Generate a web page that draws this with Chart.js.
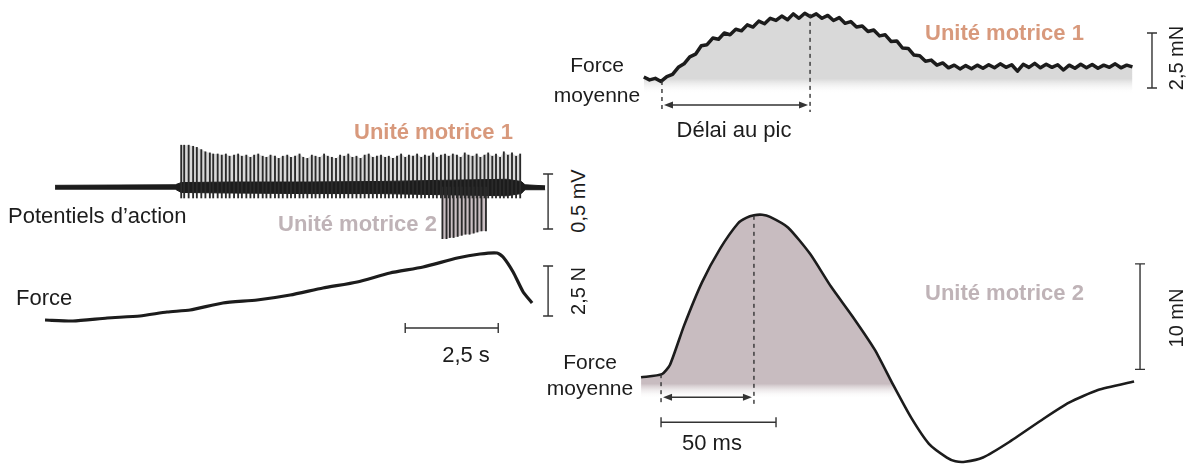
<!DOCTYPE html>
<html lang="fr">
<head>
<meta charset="utf-8">
<title>Unités motrices</title>
<script src="https://cdn.jsdelivr.net/npm/chart.js@4"></script>
<style>
  html, body { margin: 0; padding: 0; background: #fff; }
  #fig { position: relative; width: 1192px; height: 466px; overflow: hidden; background: #fff; }
  #fig canvas { position: absolute; }
  .lbl { position: absolute; font-family: 'Liberation Sans', Arial, sans-serif; font-size: 22px;
         color: #1c1c1c; white-space: nowrap; line-height: 1; }
  .mu1 { color: #d8997c; font-weight: bold; }
  .mu2 { color: #bfb3b7; font-weight: bold; }
  .ctr { transform: translateX(-50%); text-align: center; }
  .fm { font-size: 21px; }
  .rot { font-size: 20px; transform: translate(-50%, -50%) rotate(-90deg); }
</style>
</head>
<body>
<div id="fig">
  <canvas id="apChart" width="560" height="120" style="left:0;top:130px"></canvas>
  <canvas id="forceChart" width="560" height="130" style="left:0;top:240px"></canvas>
  <canvas id="mu1Chart" width="562" height="140" style="left:630px;top:0"></canvas>
  <canvas id="mu2Chart" width="562" height="266" style="left:630px;top:200px"></canvas>

  <div class="lbl mu1" style="left:354px;top:121px">Unité motrice 1</div>
  <div class="lbl" style="left:8px;top:205px">Potentiels d’action</div>
  <div class="lbl mu2" style="left:278px;top:213px">Unité motrice 2</div>
  <div class="lbl" style="left:16px;top:287px">Force</div>
  <div class="lbl ctr" style="left:466px;top:344px">2,5 s</div>
  <div class="lbl rot" style="left:578px;top:201px">0,5 mV</div>
  <div class="lbl rot" style="left:578px;top:291px">2,5 N</div>

  <div class="lbl ctr fm" style="left:597px;top:50px;line-height:30px">Force<br>moyenne</div>
  <div class="lbl mu1" style="left:925px;top:22px">Unité motrice 1</div>
  <div class="lbl ctr" style="left:734px;top:119px">Délai au pic</div>
  <div class="lbl rot" style="left:1176px;top:58px">2,5 mN</div>

  <div class="lbl ctr fm" style="left:590px;top:349px;line-height:26px">Force<br>moyenne</div>
  <div class="lbl mu2" style="left:925px;top:282px">Unité motrice 2</div>
  <div class="lbl rot" style="left:1176px;top:318px">10 mN</div>
  <div class="lbl ctr" style="left:712px;top:432px">50 ms</div>
</div>

<script>
// --- Potentiels d'action (s, mV) ---
const apBandT  = [0.27, 3.5, 3.66, 5, 7, 9, 10.6, 11.5, 12.4, 12.8, 12.9, 13.44];
const apBandHi = [0.015, 0.02, 0.04, 0.045, 0.045, 0.05, 0.06, 0.065, 0.07, 0.05, 0.02, 0.01];
const apBandLo = [-0.02, -0.02, -0.05, -0.055, -0.06, -0.06, -0.07, -0.075, -0.08, -0.06, -0.025, -0.025];

const mu1SpikeT = [3.66,3.74,3.86,3.98,4.08,4.2,4.31,4.43,4.52,4.64,
  4.75,4.86,4.96,5.08,5.19,5.29,5.41,5.52,5.62,5.73,
  5.85,5.95,6.06,6.18,6.28,6.39,6.51,6.61,6.72,6.84,
  6.94,7.05,7.17,7.27,7.38,7.5,7.6,7.71,7.82,7.93,
  8.04,8.15,8.26,8.37,8.48,8.59,8.7,8.81,8.92,9.03,
  9.14,9.24,9.35,9.46,9.57,9.68,9.78,9.89,10.0,10.11,
  10.21,10.32,10.43,10.53,10.64,10.75,10.85,10.96,11.07,11.17,
  11.28,11.38,11.49,11.6,11.7,11.81,11.91,12.02,12.12,12.23,
  12.33,12.44,12.55,12.66,12.77];
const mu1SpikeAmp = [0.38,0.38,0.38,0.37,0.36,0.34,0.32,0.31,0.3,0.3,
  0.29,0.3,0.28,0.29,0.3,0.28,0.29,0.27,0.29,0.3,
  0.28,0.27,0.29,0.28,0.26,0.28,0.29,0.27,0.28,0.3,
  0.27,0.26,0.29,0.28,0.27,0.3,0.28,0.27,0.26,0.29,
  0.28,0.3,0.27,0.28,0.26,0.29,0.3,0.27,0.28,0.29,
  0.27,0.28,0.26,0.28,0.3,0.27,0.29,0.28,0.3,0.27,
  0.29,0.28,0.31,0.27,0.29,0.3,0.28,0.3,0.29,0.27,
  0.31,0.29,0.28,0.3,0.27,0.29,0.31,0.28,0.3,0.27,
  0.32,0.29,0.31,0.28,0.3];

const mu2SpikeT   = [10.68,10.79,10.88,10.98,11.09,11.2,11.3,11.41,11.52,11.62,11.73,11.85];
const mu2SpikeAmp = [-0.47,-0.47,-0.46,-0.46,-0.45,-0.44,-0.43,-0.43,-0.42,-0.41,-0.4,-0.4];

// --- Force globale (s, N) ---
const forceT = [0, 0.75, 1.67, 2.55, 3.28, 3.9, 4.78, 5.7, 6.59, 7.47, 8.39, 9.27, 10.16, 11.08, 11.69, 12.15, 12.31, 12.58, 12.85, 13.09];
const forceN = [0, -0.05, 0.1, 0.2, 0.4, 0.5, 0.85, 1.0, 1.25, 1.6, 1.9, 2.35, 2.65, 3.1, 3.3, 3.35, 3.15, 2.4, 1.4, 0.85];

// --- Secousse unité motrice 1 (ms, mN), trace bruitée ---
const mu1T = [-7.5,-5,-2.5,0,2.5,5,7.5,10,12.5,15,
  17.5,20,22.5,25,27.5,30,32.5,35,37.5,40,
  42.5,45,47.5,50,52.5,55,57.5,60,62.5,65,
  67.5,70,72.5,75,77.5,80,82.5,85,87.5,90,
  92.5,95,97.5,100,102.5,105,107.5,110,112.5,115,
  117.5,120,122.5,125,127.5,130,132.5,135,137.5,140,
  142.5,145,147.5,150,152.5,155,157.5,160,162.5,165,
  167.5,170,172.5,175,177.5,180,182.5,185,187.5,190,
  192.5,195,197.5,200,202.5,205];
const mu1F = [0.18,0.05,0.12,-0.02,0.2,0.3,0.62,0.78,1.1,1.22,
  1.6,1.65,1.95,1.9,2.18,2.1,2.35,2.28,2.55,2.45,
  2.72,2.6,2.85,2.75,2.95,2.78,3.05,2.85,3.08,2.92,
  3.05,2.85,2.98,2.75,2.88,2.62,2.7,2.45,2.5,2.25,
  2.32,2.05,2.1,1.8,1.82,1.5,1.48,1.18,1.15,0.9,
  0.95,0.72,0.82,0.6,0.72,0.55,0.7,0.56,0.72,0.58,
  0.74,0.6,0.78,0.62,0.74,0.45,0.76,0.62,0.8,0.6,
  0.76,0.62,0.74,0.5,0.72,0.58,0.76,0.6,0.75,0.58,
  0.72,0.62,0.78,0.6,0.72,0.64];

// --- Secousse unité motrice 2 (ms, mN) ---
const mu2T = [-8.7,0.4,3.9,10,17.8,25.7,33.5,37,40.4,44,47.4,55.2,64.8,73.9,83.5,93,100.9,108.7,116.5,124.3,128,132.2,140,150.9,166.5,177.4,190,205.7];
const mu2F = [0,0.3,1.2,4.9,9.0,12.2,14.6,15.1,15.35,15.4,15.2,14.2,11.7,8.6,5.7,2.6,-0.7,-3.8,-6.3,-7.6,-7.95,-8.0,-7.6,-6.2,-3.9,-2.4,-1.2,-0.4];

const INK = '#1c1c1c';
const pts = (xs, ys) => xs.map((x, i) => ({x, y: ys[i]}));

// vertical fade used under the twitch traces
function fadeFill(color, fadeFrom, fadeTo) {
  return c => {
    const {chart} = c;
    if (!chart.chartArea) return color;
    const y = chart.scales.y;
    const y0 = y.getPixelForValue(fadeFrom), y1 = y.getPixelForValue(fadeTo);
    const g = chart.ctx.createLinearGradient(0, y0, 0, y1);
    g.addColorStop(0, color);
    g.addColorStop(1, 'rgba(255,255,255,0)');
    return g;
  };
}

// annotations drawn in data units: scale bars, dashed markers, arrows
function drawMarks(chart, marks) {
  const {ctx} = chart;
  const X = v => chart.scales.x.getPixelForValue(v);
  const Y = v => chart.scales.y.getPixelForValue(v);
  ctx.save();
  ctx.strokeStyle = '#333';
  ctx.fillStyle = '#333';
  ctx.lineWidth = 1.4;
  marks.forEach(m => {
    ctx.setLineDash(m.kind === 'dash' ? [4, 4] : []);
    ctx.beginPath();
    if (m.kind === 'vbar') {
      const x = X(m.t), a = Y(m.from), b = Y(m.to);
      ctx.moveTo(x, a); ctx.lineTo(x, b);
      ctx.moveTo(x - 5, a); ctx.lineTo(x + 5, a);
      ctx.moveTo(x - 5, b); ctx.lineTo(x + 5, b);
    } else if (m.kind === 'hbar') {
      const y = Y(m.v), a = X(m.from), b = X(m.to);
      ctx.moveTo(a, y); ctx.lineTo(b, y);
      ctx.moveTo(a, y - 5); ctx.lineTo(a, y + 5);
      ctx.moveTo(b, y - 5); ctx.lineTo(b, y + 5);
    } else if (m.kind === 'dash') {
      const x = X(m.t);
      ctx.moveTo(x, Y(m.from)); ctx.lineTo(x, Y(m.to));
    } else if (m.kind === 'arrow') {
      const y = Y(m.v), a = X(m.from) + 2, b = X(m.to) - 2;
      ctx.moveTo(a + 6, y); ctx.lineTo(b - 6, y);
      ctx.stroke();
      ctx.beginPath();
      ctx.moveTo(a, y); ctx.lineTo(a + 9, y - 3.5); ctx.lineTo(a + 9, y + 3.5); ctx.closePath();
      ctx.moveTo(b, y); ctx.lineTo(b - 9, y - 3.5); ctx.lineTo(b - 9, y + 3.5); ctx.closePath();
      ctx.fill();
      return;
    }
    ctx.stroke();
  });
  ctx.restore();
}

function makePanel(id, xr, yr, datasets, marks) {
  return new Chart(document.getElementById(id), {
    type: 'line',
    data: {datasets},
    options: {
      responsive: false,
      animation: false,
      devicePixelRatio: 1,
      layout: {padding: 0},
      events: [],
      elements: {point: {radius: 0}},
      scales: {
        x: {type: 'linear', display: false, offset: false, min: xr[0], max: xr[1]},
        y: {type: 'linear', display: false, min: yr[0], max: yr[1]}
      },
      plugins: {legend: {display: false}, tooltip: {enabled: false}}
    },
    plugins: [{id: 'marks', afterDatasetsDraw: chart => drawMarks(chart, marks)}]
  });
}

// Potentiels d'action
makePanel('apChart', [-1.21, 13.84], [-0.573, 0.518], [
  {data: pts(apBandT, apBandLo), borderColor: INK, borderWidth: 1, order: 4},
  {data: pts(apBandT, apBandHi), borderColor: INK, borderWidth: 1, backgroundColor: INK, fill: 0, order: 4},
  {data: pts(mu1SpikeT, mu1SpikeAmp), borderWidth: 0, backgroundColor: 'rgba(185,185,185,0.55)', fill: 'origin', order: 6},
  {data: pts(mu2SpikeT, mu2SpikeAmp), borderWidth: 0, backgroundColor: 'rgba(196,184,188,0.9)', fill: 'origin', order: 6},
  {type: 'bar', data: mu1SpikeT.map((t, i) => ({x: t, y: [-0.1, mu1SpikeAmp[i]]})),
   backgroundColor: '#2a2a2a', barThickness: 1.2, grouped: false, order: 2},
  {type: 'bar', data: mu2SpikeT.map((t, i) => ({x: t, y: [0, mu2SpikeAmp[i]]})),
   backgroundColor: '#2a2a2a', barThickness: 1.2, grouped: false, order: 2}
], [
  {kind: 'vbar', t: 13.52, from: 0.118, to: -0.382}
]);

// Force globale
makePanel('forceChart', [-1.21, 13.84], [-2.5, 4.0], [
  {data: pts(forceT, forceN), borderColor: INK, borderWidth: 3.2, tension: 0.2, fill: false}
], [
  {kind: 'vbar', t: 13.52, from: 2.7, to: 0.2},
  {kind: 'hbar', v: -0.4, from: 9.68, to: 12.18}
]);

// Unité motrice 1
makePanel('mu1Chart', [-13.5, 230.9], [-2.68, 3.68], [
  {data: pts(mu1T, mu1F), borderColor: INK, borderWidth: 3.5, tension: 0, borderJoinStyle: 'round',
   backgroundColor: fadeFill('#d9d9d9', 0.1, -0.6), fill: {target: {value: -0.6}}}
], [
  {kind: 'dash', t: 0.4, from: 0, to: -1.41},
  {kind: 'dash', t: 64.8, from: 3.05, to: -1.41},
  {kind: 'arrow', v: -1.09, from: 0.4, to: 64.8},
  {kind: 'vbar', t: 213.5, from: 2.18, to: -0.32}
]);

// Unité motrice 2 : remplissage limité à la phase positive
const mu2Fill = pts(mu2T, mu2F).filter(p => p.x <= 110);
makePanel('mu2Chart', [-13.5, 230.9], [-8.4, 16.8], [
  {data: pts(mu2T, mu2F), borderColor: INK, borderWidth: 2.6, tension: 0.2, fill: false, order: 1},
  {data: mu2Fill, borderWidth: 0, tension: 0.2, order: 3,
   backgroundColor: fadeFill('#c8bcc0', -0.6, -2.0),
   fill: {target: {value: -2.0}, below: 'rgba(0,0,0,0)'}}
], [
  {kind: 'dash', t: 0, from: 0.3, to: -2.55},
  {kind: 'dash', t: 40.4, from: 15.3, to: -2.55},
  {kind: 'arrow', v: -1.89, from: 0, to: 40.4},
  {kind: 'vbar', t: 208.3, from: 10.75, to: 0.75},
  {kind: 'hbar', v: -4.25, from: 0, to: 50}
]);
</script>
</body>
</html>
